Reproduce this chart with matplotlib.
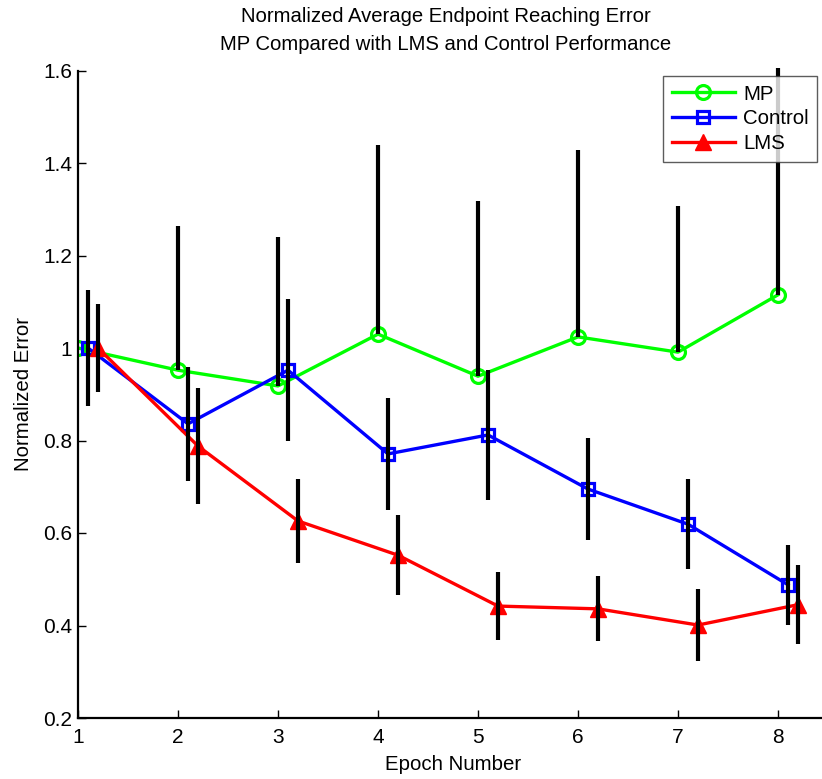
import matplotlib
matplotlib.use("Agg")
import matplotlib.pyplot as plt
import numpy as np

plt.rcParams['font.family'] = ['Liberation Sans', 'DejaVu Sans']

epochs = [1, 2, 3, 4, 5, 6, 7, 8]
x_ticklabels = ['1', '2', '3', '4', '5', '6', '7', '8']
y_ticks = [0.2, 0.4, 0.6, 0.8, 1.0, 1.2, 1.4, 1.6]
y_ticklabels = ['0.2', '0.4', '0.6', '0.8', '1', '1.2', '1.4', '1.6']

mp = [1.0, 0.952, 0.918, 1.030, 0.939, 1.024, 0.991, 1.115]
mp_top = [1.0, 1.264, 1.240, 1.440, 1.318, 1.428, 1.307, 1.605]

control = [1.0, 0.836, 0.952, 0.771, 0.812, 0.695, 0.619, 0.488]
control_err = [0.125, 0.123, 0.153, 0.121, 0.140, 0.110, 0.097, 0.086]

lms = [1.0, 0.788, 0.626, 0.552, 0.442, 0.436, 0.401, 0.445]
lms_err = [0.095, 0.126, 0.090, 0.087, 0.073, 0.070, 0.078, 0.086]

control_offset = 0.1
lms_offset = 0.2

W, H = 822, 779
fig = plt.figure(figsize=(W / 100, H / 100), dpi=100)
ax = fig.add_axes([78 / W, 1 - 718 / H, (W - 78) / W, (718 - 70.5) / H])

ex = np.array(epochs, dtype=float)
xc = ex + control_offset
xl = ex + lms_offset

lw = 2.4
ax.plot(ex, mp, color=(0, 1, 0), lw=lw, marker='o', ms=10, mfc='none',
        mec=(0, 1, 0), mew=2.3, label='MP', zorder=2)
ax.plot(xc, control, color=(0, 0, 1), lw=lw, marker='s', ms=8.5, mfc='none',
        mec=(0, 0, 1), mew=2.3, label='Control', zorder=3)
ax.plot(xl, lms, color=(1, 0, 0), lw=lw, marker='^', ms=12, mfc=(1, 0, 0),
        mec=(1, 0, 0), label='LMS', zorder=4)

mp_arr = np.array(mp)
mp_up = np.array(mp_top) - mp_arr
ax.errorbar(ex, mp_arr, yerr=[np.zeros_like(mp_up), mp_up], fmt='none',
            ecolor='k', elinewidth=3, capsize=0, zorder=5, clip_on=False)
ax.errorbar(xc, control, yerr=control_err, fmt='none', ecolor='k',
            elinewidth=3, capsize=0, zorder=5)
ax.errorbar(xl, lms, yerr=lms_err, fmt='none', ecolor='k',
            elinewidth=3, capsize=0, zorder=5)

ax.set_xlim(1, 1 + (W - 78) / 100)
ax.set_ylim(0.2, 1.6)
ax.set_xticks(epochs)
ax.set_xticklabels(x_ticklabels)
ax.set_yticks(y_ticks)
ax.set_yticklabels(y_ticklabels)
ax.tick_params(direction='in', length=6, width=1, labelsize=15)
ax.tick_params(axis='x', pad=7)
ax.tick_params(axis='y', pad=4)
for s in ['top', 'right']:
    ax.spines[s].set_visible(False)
for s in ['left', 'bottom']:
    ax.spines[s].set_linewidth(1.6)

ax.set_xlabel('Epoch Number', fontsize=14.7)
ax.xaxis.set_label_coords((453 - 78) / (W - 78), -(765 - 718) / (718 - 70.5))
ax.xaxis.label.set_va('center')
ax.set_ylabel('Normalized Error', fontsize=14.7)
ax.yaxis.set_label_coords(-0.061, 0.5)

fig.text(446 / W, 1 - 17 / H, 'Normalized Average Endpoint Reaching Error',
         ha='center', va='center', fontsize=14.6)
fig.text(446 / W, 1 - 44 / H, 'MP Compared with LMS and Control Performance',
         ha='center', va='center', fontsize=14.6)

leg = ax.legend(loc='upper left', bbox_to_anchor=(663 / W, 1 - 76 / H),
                bbox_transform=fig.transFigure, fontsize=14.7, frameon=True,
                fancybox=False, edgecolor='#333333', handlelength=3.1,
                handletextpad=0.4, borderpad=0.42, labelspacing=0.28,
                borderaxespad=0)
leg.get_frame().set_linewidth(1.0)

fig.savefig('out.png', dpi=100)
